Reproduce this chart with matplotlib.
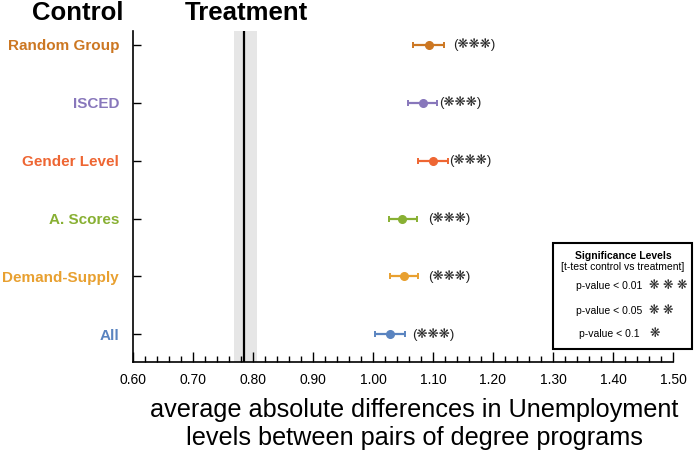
import matplotlib
matplotlib.use("Agg")
import matplotlib.pyplot as plt
from matplotlib.patches import Rectangle
from matplotlib.ticker import MultipleLocator

categories = ["All", "Demand-Supply", "A. Scores", "Gender Level", "ISCED", "Random Group"]
means = [1.028, 1.052, 1.049, 1.100, 1.083, 1.093]
lower = [1.004, 1.028, 1.026, 1.075, 1.059, 1.067]
upper = [1.053, 1.075, 1.074, 1.125, 1.107, 1.118]
sig_labels = ["(❋❋❋)"] * 6
sig_x = [1.065, 1.092, 1.092, 1.127, 1.110, 1.133]
colors = ["#5a84c0", "#e8a030", "#88b033", "#ee6633", "#8877bb", "#cc7722"]
treatment_value = 0.785
treatment_band = (0.769, 0.806)
xticks = [0.60, 0.70, 0.80, 0.90, 1.00, 1.10, 1.20, 1.30, 1.40, 1.50]

plt.rcParams['font.family'] = ['Liberation Sans', 'DejaVu Sans']

fig = plt.figure(figsize=(6.94, 4.54), dpi=100)
ax = fig.add_axes([0.1916, 0.2026, 0.9697 - 0.1916, 0.9317 - 0.2026])

ax.axvspan(treatment_band[0], treatment_band[1], color="#e6e6e6", lw=0, zorder=0)
ax.axvline(treatment_value, color="black", lw=1.6, zorder=1)

for i, (m, lo, hi, c) in enumerate(zip(means, lower, upper, colors)):
    ax.errorbar([m], [i], xerr=[[m - lo], [hi - m]], fmt='o', color=c,
                ms=5.5, elinewidth=1.6, capsize=2.0, capthick=1.4, zorder=3)
    ax.text(sig_x[i], i, sig_labels[i], ha='left', va='center', fontsize=9.5,
            color="#222222")

ax.set_xlim(0.60, 1.50)
ax.set_ylim(-0.48, 5.24)
ax.set_xticks(xticks)
ax.set_xticklabels([f"{v:.2f}" for v in xticks], fontsize=10)
ax.xaxis.set_minor_locator(MultipleLocator(0.02))
ax.tick_params(axis='x', which='major', direction='in', length=7, width=1, pad=8)
ax.tick_params(axis='x', which='minor', direction='in', length=4, width=1)
ax.set_yticks(range(len(categories)))
ax.set_yticklabels(categories, fontsize=11, fontweight='bold')
for lbl, c in zip(ax.get_yticklabels(), colors):
    lbl.set_color(c)
ax.tick_params(axis='y', direction='in', length=6, width=1, pad=10)
ax.spines['top'].set_visible(False)
ax.spines['right'].set_visible(False)
ax.spines['left'].set_linewidth(1.2)
ax.spines['bottom'].set_linewidth(1.2)

fig.text(78 / 694, 1 - 13 / 454, "Control", ha='center', va='center',
         fontsize=18.5, fontweight='bold')
fig.text(246 / 694, 1 - 13 / 454, "Treatment", ha='center', va='center',
         fontsize=18.5, fontweight='bold')

fig.text(414 / 694, 1 - 424 / 454,
         "average absolute differences in Unemployment\nlevels between pairs of degree programs",
         ha='center', va='center', fontsize=18.2, linespacing=1.22)

# significance legend box
x0, x1 = 553 / 694, 692 / 694
y0, y1 = 1 - 349 / 454, 1 - 243 / 454
fig.add_artist(Rectangle((x0, y0), x1 - x0, y1 - y0, transform=fig.transFigure,
                         fill=False, lw=1.5, ec='black'))
fig.text(623 / 694, 1 - 256 / 454, "Significance Levels", ha='center', va='center',
         fontsize=7.5, fontweight='bold')
fig.text(623 / 694, 1 - 267 / 454, "[t-test control vs treatment]", ha='center',
         va='center', fontsize=7.5)
leg_p = ["p-value < 0.01", "p-value < 0.05", "p-value < 0.1"]
leg_s = ["❋ ❋ ❋", "❋ ❋", "❋"]
leg_y = [286, 311, 334]
for p, s, yy in zip(leg_p, leg_s, leg_y):
    fig.text(609 / 694, 1 - yy / 454, p, ha='center', va='center', fontsize=7.5)
    fig.text(649 / 694, 1 - yy / 454, s, ha='left', va='center', fontsize=9,
             color="#222222")

fig.savefig("out.png", dpi=100)
